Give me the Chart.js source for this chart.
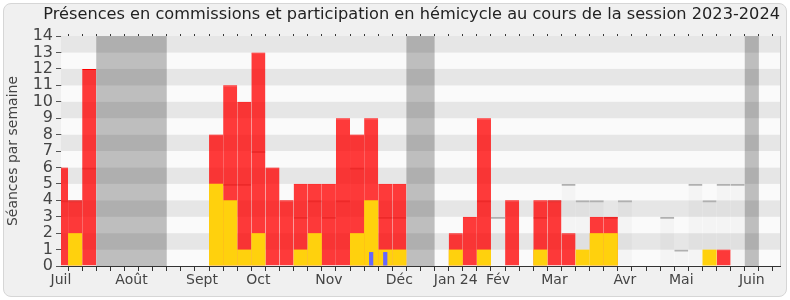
<!DOCTYPE html>
<html>
<head>
<meta charset="utf-8">
<script src="https://cdn.jsdelivr.net/npm/chart.js@4/dist/chart.umd.min.js"></script>
<style>
  body { margin: 0; background: #fff; }
  #wrap { position: relative; width: 790px; height: 300px; }
  #frame {
    position: absolute; left: 3px; top: 3px; width: 782px; height: 292px;
    background: #f0f0f0; border: 1px solid #d6d6d6; border-radius: 8px;
  }
  #chart { position: absolute; left: 0; top: 0; }
</style>
</head>
<body>
<div id="wrap">
  <div id="frame"></div>
  <canvas id="chart" width="790" height="300"></canvas>
</div>
<script>
// 52 semaines, de début juillet 2023 à fin juin 2024
const semaines = Array.from({ length: 52 }, (_, i) => 'S' + (i + 1));

// mois affichés sous l'axe (index de semaine)
const moisIndex = [0, 5, 10, 14, 19, 24, 28, 31, 35, 40, 44, 49];
const moisNoms = ['Juil', 'Août', 'Sept', 'Oct', 'Nov', 'Déc', 'Jan 24', 'Fév', 'Mar', 'Avr', 'Mai', 'Juin'];

// semaines de vacances parlementaires [début, fin]
const vacances = [[3, 7], [25, 26], [49, 49]];

// présences en commission
const commission = [
  6, 4, 12, null, null, null, null, null, null, null,
  null, 8, 11, 10, 13, 6, 4, 5, 5, 5,
  9, 8, 9, 5, 5, null, null, null, 2, 3,
  9, null, 4, null, 4, 4, 2, null, 3, 3,
  null, null, null, null, null, null, null, 1, null, null,
  null, null
];

// participation en hémicycle
const participation = [
  null, 2, null, null, null, null, null, null, null, null,
  null, 5, 4, 1, 2, null, null, 1, 2, null,
  null, 2, 4, 1, 1, null, null, null, 1, null,
  1, null, null, null, 1, null, null, 1, 2, 2,
  null, null, null, null, null, null, 1, null, null, null,
  null, null
];

// présences en hémicycle
const hemicycle = [
  4, 4, 6, null, null, null, null, null, null, null,
  null, null, 5, 5, 7, null, null, 3, 4, 3,
  4, 6, null, 3, 3, null, null, null, null, null,
  4, 3, null, null, 3, 4, 5, 4, 4, 3,
  4, null, null, 3, 1, 5, 4, 5, 5, null,
  null, null
];

// questions orales
const questions = [
  null, null, null, null, null, null, null, null, null, null,
  null, null, null, null, null, null, null, null, null, null,
  null, null, 0.85, 0.85, null, null, null, null, null, null,
  null, null, null, null, null, null, null, null, null, null,
  null, null, null, null, null, null, null, null, null, null,
  null, null
];

Chart.defaults.font.family = '"DejaVu Sans", sans-serif';
Chart.defaults.color = '#444';

// fond rayé + bandes de vacances
const fondPlugin = {
  id: 'fond',
  beforeDatasetsDraw(chart) {
    const { ctx, chartArea, scales } = chart;
    const y = scales.y, x = scales.x;
    ctx.save();
    for (let v = 0; v < 14; v++) {
      const top = y.getPixelForValue(v + 1);
      const bot = y.getPixelForValue(v);
      ctx.fillStyle = v % 2 === 0 ? '#fafafa' : '#e6e6e6';
      ctx.fillRect(chartArea.left, top, chartArea.right - chartArea.left, bot - top);
    }
    ctx.beginPath();
    ctx.rect(chartArea.left, chartArea.top, chartArea.right - chartArea.left, chartArea.bottom - chartArea.top);
    ctx.clip();
    ctx.fillStyle = 'rgba(0,0,0,0.24)';
    vacances.forEach(([a, b]) => {
      const x1 = x.getPixelForValue(a - 0.5);
      const x2 = x.getPixelForValue(b + 0.5);
      ctx.fillRect(x1, chartArea.top, x2 - x1, chartArea.bottom - chartArea.top);
    });
    ctx.restore();
  },
  afterDatasetsDraw(chart) {
    const { ctx, chartArea } = chart;
    ctx.save();
    ctx.strokeStyle = '#c8c8c8';
    ctx.lineWidth = 1;
    ctx.beginPath();
    ctx.moveTo(chartArea.right + 0.5, chartArea.top);
    ctx.lineTo(chartArea.right + 0.5, chartArea.bottom);
    ctx.stroke();
    ctx.restore();
  }
};

new Chart(document.getElementById('chart'), {
  type: 'bar',
  data: {
    labels: semaines,
    datasets: [
      {
        label: 'Présences en hémicycle',
        data: hemicycle,
        backgroundColor: 'rgba(0,0,0,0.025)',
        borderColor: '#b0b0b0',
        borderWidth: { top: 2, left: 0, right: 0, bottom: 0 },
        order: 4
      },
      {
        label: 'Présences en commission',
        data: commission,
        backgroundColor: 'rgba(255,0,0,0.77)',
        borderColor: '#ff0000',
        borderWidth: { top: 1, left: 0, right: 0, bottom: 0 },
        order: 3
      },
      {
        label: 'Participation en hémicycle',
        data: participation,
        backgroundColor: '#ffd10d',
        borderWidth: 0,
        order: 2
      },
      {
        label: 'Questions orales',
        data: questions,
        backgroundColor: '#6666ff',
        borderWidth: 0,
        barPercentage: 0.3,
        order: 1
      }
    ]
  },
  options: {
    responsive: false,
    animation: false,
    devicePixelRatio: 1,
    layout: { padding: { left: 0, right: 10, top: 0, bottom: 8 } },
    datasets: {
      bar: { grouped: false, categoryPercentage: 1, barPercentage: 1, inflateAmount: 0 }
    },
    plugins: {
      legend: { display: false },
      tooltip: { enabled: false },
      title: {
        display: true,
        align: 'end',
        text: 'Présences en commissions et participation en hémicycle au cours de la session 2023-2024',
        color: '#222',
        font: { size: 16.2, weight: 'normal' },
        padding: { top: 5, bottom: 11.6 }
      }
    },
    scales: {
      x: {
        type: 'category',
        offset: false,
        grid: { drawOnChartArea: false, drawTicks: true, tickLength: 5, color: '#333' },
        border: { color: '#333' },
        ticks: {
          autoSkip: false,
          maxRotation: 0,
          padding: 1,
          font: { size: 14 },
          color: '#444',
          callback: function (v, i) {
            const k = moisIndex.indexOf(i);
            return k >= 0 ? moisNoms[k] : '';
          }
        },
        afterFit: function (scale) { scale.height = 26; }
      },
      xHaut: {
        type: 'category',
        position: 'top',
        offset: false,
        grid: { drawOnChartArea: false, drawTicks: true, tickLength: 2, color: '#333' },
        border: { display: false },
        ticks: { display: false },
        afterFit: function (scale) { scale.height = 0; }
      },
      y: {
        min: 0,
        max: 14,
        grid: { drawOnChartArea: false, drawTicks: true, tickLength: 5, color: '#555' },
        border: { color: '#333' },
        ticks: { stepSize: 1, autoSkip: false, padding: 3, font: { size: 16 }, color: '#444' },
        title: {
          display: true,
          text: 'Séances par semaine',
          color: '#444',
          font: { size: 14 },
          padding: { top: 5, bottom: 0 }
        },
        afterFit: function (scale) { scale.width = 61; }
      }
    }
  },
  plugins: [fondPlugin]
});
</script>
</body>
</html>
